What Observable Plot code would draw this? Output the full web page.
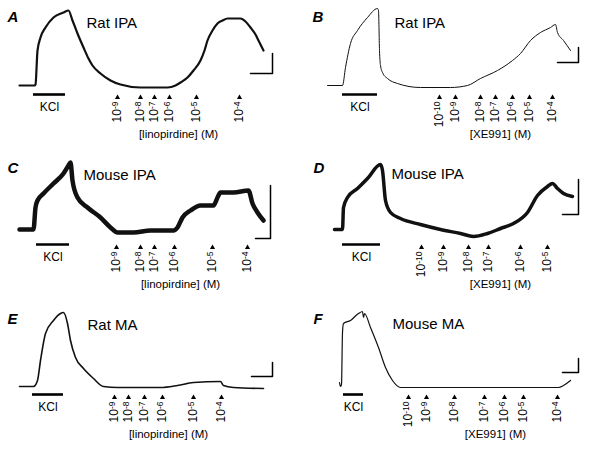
<!DOCTYPE html>
<html><head><meta charset="utf-8">
<script src="https://cdn.jsdelivr.net/npm/d3@7"></script>
<script src="https://cdn.jsdelivr.net/npm/@observablehq/plot@0.6"></script>
<style>
body{margin:0;background:#fff;}
#fig{display:grid;grid-template-columns:300px 300px;grid-template-rows:150px 150px 150px;width:600px;height:450px;}
#fig svg{overflow:visible;display:block;}
</style></head><body><div id="fig"></div>
<script>
// ---- data: [time (a.u.), tension (a.u.)] ----
const traceA = [[19,65],[34,65],[35,66],[37,100],[40,113],[45,123],[53,133],[63,138],[68,140],[72,130],[77,117],[83,103],[88,92],[92,85],[100,77],[110,70],[120,66],[140,63],[167,63],[175,65],[180,68],[187,73],[193,80],[200,90],[204,100],[207,110],[212,120],[217,127],[222,130],[227,132],[240,132],[245,129],[250,123],[255,116],[258,110],[263,100]];
const traceB = [[27,65],[42,65],[45,83],[50,107],[57,120],[67,133],[77,142],[78,140],[79,100],[80,85],[82,78],[87,72],[97,67],[120,63],[150,63],[167,65],[180,72],[197,80],[212,90],[220,97],[230,110],[240,118],[250,123],[255,126],[257,118],[263,110],[270,100]];
const traceC = [[19,71],[33,71],[35,93],[37,100],[43,107],[53,117],[63,127],[68,135],[70,138],[72,120],[77,103],[87,93],[100,83],[110,73],[117,68],[133,68],[150,70],[173,70],[177,73],[182,83],[190,90],[200,95],[213,95],[217,103],[220,108],[233,108],[248,110],[252,97],[257,88],[263,80]];
const traceD = [[34,71],[42,71],[43,93],[47,103],[57,112],[67,122],[80,136],[82,130],[85,100],[90,88],[100,82],[120,76],[140,71],[160,67],[173,64],[187,67],[200,72],[213,77],[227,88],[237,105],[247,114],[252,117],[257,112],[263,107],[272,104]];
const traceE = [[19,64],[33,64],[37,70],[40,90],[45,117],[53,130],[60,137],[63,138],[67,127],[70,110],[75,93],[83,82],[93,72],[103,64],[117,63],[160,63],[177,65],[193,68],[220,69],[223,65],[233,63],[263,62]];
const traceF = [[39,68],[40,64],[41,66],[42,118],[43,127],[50,130],[58,137],[62,139],[63,133],[64,137],[70,123],[78,103],[85,83],[92,70],[100,63],[110,63],[258,63],[263,65],[270,70]];

// dose addition times and exponents (mol/L)
const dosesA = [117,140,154,169,196,239]; const expA = [-9,-8,-7,-6,-5,-4];
const dosesB = [139,155,180,195,212,229,252]; const expB = [-10,-9,-8,-7,-6,-5,-4];
const dosesC = [116,140,154,174,212,247]; const expC = [-9,-8,-7,-6,-5,-4];
const dosesD = [121,143,168,188,220,247]; const expD = [-10,-9,-8,-7,-6,-5];
const dosesE = [114,128,144,162,193,221]; const expE = [-9,-8,-7,-6,-5,-4];
const dosesF = [108,126,154,184,204,223,257]; const expF = [-10,-9,-8,-7,-6,-5,-4];

// KCl application period [start, end]
const kclA = [33,65], kclB = [42,77], kclC = [36,69], kclD = [42,80], kclE = [32,63], kclF = [43,63];

// scale bars: [time start, time end, tension bottom, tension top]
const barA = [250,272,77,97], barB = [257,278,88,103], barC = [255,270,62,115];
const barD = [262,278,86,121], barE = [251,272,74,88], barF = [262,278,78,92];

const letters = ["A","B","C","D","E","F"];
const titles = ["Rat IPA","Rat IPA","Mouse IPA","Mouse IPA","Rat MA","Mouse MA"];
const drugs = ["[linopirdine] (M)","[XE991] (M)","[linopirdine] (M)","[XE991] (M)","[linopirdine] (M)","[XE991] (M)"];

const FONT = "Liberation Sans, Arial, Helvetica, sans-serif";

function panel(o){
  const marks = [
    Plot.line(o.trace, {x: d=>d[0], y: d=>d[1], curve: "monotone-x", stroke: "#111", strokeWidth: o.sw, strokeLinejoin: "round"}),
    Plot.ruleY([{a:o.kcl[0], b:o.kcl[1], y:56}], {x1:"a", x2:"b", y:"y", stroke:"#000", strokeWidth: 2.6}),
    Plot.text(["KCl"], {x: (o.kcl[0]+o.kcl[1])/2, y: 40, text: d=>d, fontSize: 12, lineAnchor: "bottom", textAnchor: "middle", fill: "#000"}),
    Plot.line([[o.bar[0],o.bar[2]],[o.bar[1],o.bar[2]],[o.bar[1],o.bar[3]]], {x: d=>d[0], y: d=>d[1], stroke: "#000", strokeWidth: 1.5}),
    Plot.dot(o.doses, {x: d=>d, y: 53, symbol: "triangle", r: 1.9, fill: "#000", stroke: null}),
    Plot.text(o.doses, {x: d=>d, y: 49, text: (d,i)=>"10^"+o.exps[i], rotate: -90, textAnchor: "end", lineAnchor: "middle", fontSize: 12, fill: "#000"}),
    Plot.text([o.drug], {x: o.lx, y: 13, text: d=>d, fontSize: 11.5, textAnchor: "middle", lineAnchor: "bottom", fill: "#000"}),
    Plot.text([o.title], {x: o.tx, y: o.ty, text: d=>d, fontSize: 15, textAnchor: "start", lineAnchor: "bottom", fill: "#000"}),
    Plot.text([o.letter], {x: o.ltx, y: o.lty, text: d=>d, fontSize: 15, fontWeight: "bold", fontStyle: "italic", textAnchor: "start", lineAnchor: "bottom", fill: "#000"})
  ];
  const svg = Plot.plot({
    width: 300, height: 150, margin: 0,
    x: {domain: [0,300], axis: null},
    y: {domain: [0,150], axis: null},
    style: {fontFamily: FONT, background: "transparent", overflow: "visible"},
    marks
  });
  svg.querySelectorAll("text").forEach(t => {
    const m = t.textContent.match(/^10\^(-?\d+)$/);
    if (m) {
      t.textContent = "10";
      const ts = document.createElementNS("http://www.w3.org/2000/svg","tspan");
      ts.setAttribute("dy","-0.42em");
      ts.setAttribute("font-size","8.5");
      ts.textContent = m[1];
      t.appendChild(ts);
    }
  });
  return svg;
}

const cfgs = [
  {trace: traceA, sw: 2.2, kcl: kclA, bar: barA, doses: dosesA, exps: expA, lx: 178, tx: 86, ty: 123, ltx: 7, lty: 129},
  {trace: traceB, sw: 1, kcl: kclB, bar: barB, doses: dosesB, exps: expB, lx: 200, tx: 94, ty: 123, ltx: 12, lty: 129},
  {trace: traceC, sw: 4.5, kcl: kclC, bar: barC, doses: dosesC, exps: expC, lx: 180, tx: 83, ty: 121, ltx: 7, lty: 128},
  {trace: traceD, sw: 3.5, kcl: kclD, bar: barD, doses: dosesD, exps: expD, lx: 200, tx: 91, ty: 122, ltx: 13, lty: 128},
  {trace: traceE, sw: 1.6, kcl: kclE, bar: barE, doses: dosesE, exps: expE, lx: 168, tx: 87, ty: 121, ltx: 7, lty: 127},
  {trace: traceF, sw: 1.2, kcl: kclF, bar: barF, doses: dosesF, exps: expF, lx: 195, tx: 92, ty: 122, ltx: 13, lty: 127}
];
const fig = document.getElementById("fig");
cfgs.forEach((c,i) => fig.appendChild(panel({...c, letter: letters[i], title: titles[i], drug: drugs[i]})));
</script></body></html>
